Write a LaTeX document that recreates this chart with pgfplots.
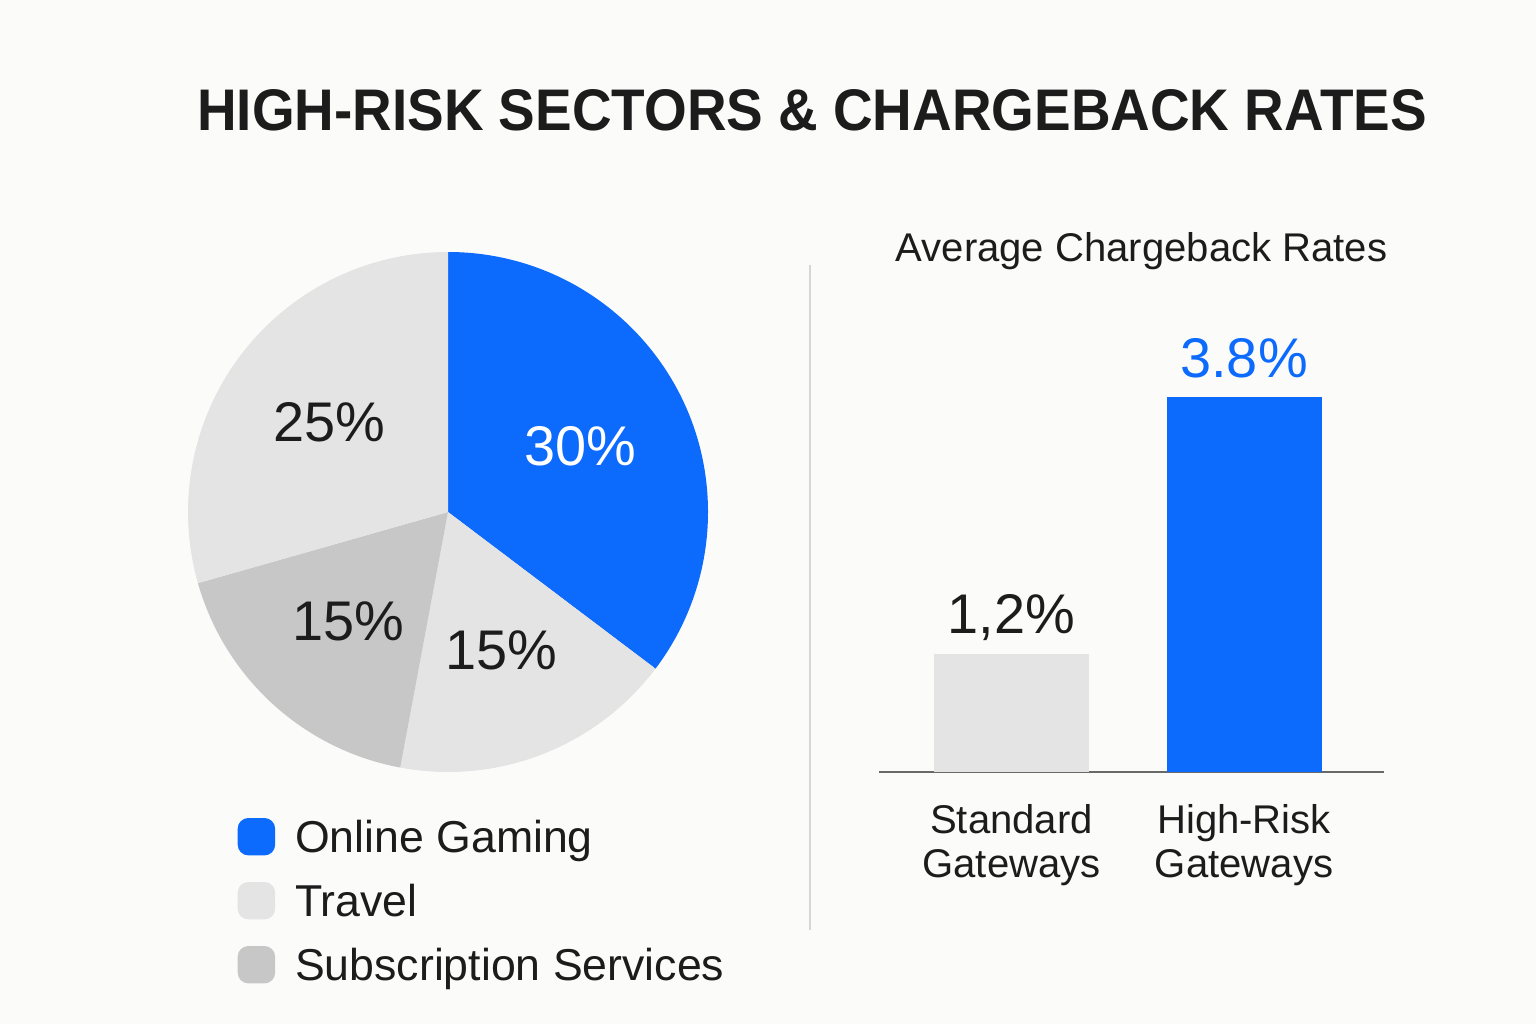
\documentclass[border=0pt]{standalone}
\usepackage{pgfplots}
\pgfplotsset{compat=1.18}
\usepackage{fontspec}
\setmainfont{Liberation Sans}
\usepackage{graphicx}

\definecolor{bg}{RGB}{251,251,250}
\definecolor{brandblue}{RGB}{12,106,253}
\definecolor{lightgrey}{RGB}{228,228,228}
\definecolor{midgrey}{RGB}{199,199,199}
\definecolor{ink}{RGB}{28,28,28}
\definecolor{rulegrey}{RGB}{214,214,214}
\definecolor{axisgrey}{RGB}{105,105,105}

% pie slices: share / fill colour / label colour (clockwise from the top)
\def\pieslices{30/brandblue/white, 15/lightgrey/ink, 15/midgrey/ink, 25/lightgrey/ink}
\def\pietotal{85}

\begin{document}
\begin{tikzpicture}[x=1cm,y=1cm]
\path[use as bounding box, fill=bg] (0,0) rectangle (15.36,10.24);

% heading
\node[anchor=base, text=ink, inner sep=0pt, font=\fontsize{16.7}{20}\selectfont\bfseries]
  at (8.12,8.93) {\scalebox{0.935}[1]{HIGH-RISK SECTORS \& CHARGEBACK RATES}};

% separator between the two panels
\draw[rulegrey, line width=0.02cm] (8.10,0.94) -- (8.10,7.59);

% ---------- sector shares ----------
\begin{axis}[
  at={(4.48cm,5.12cm)}, anchor=center,
  scale only axis, width=5.2cm, height=5.2cm,
  xmin=-1, xmax=1, ymin=-1, ymax=1,
  hide axis, clip=false,
  legend cell align=left,
  legend style={draw=none, fill=none, at={(rel axis cs:0,0)}, anchor=north west,
    xshift=0.49cm, yshift=-0.44cm, inner sep=0pt, row sep=0.14cm,
    font=\fontsize{12.7}{14}\selectfont, text=ink,
    /tikz/every odd column/.append style={column sep=0.15cm},
    nodes={inner sep=0.05cm, text height=0.31cm, text depth=0.09cm}},
]
\pgfplotsextra{
  \xdef\startangle{90}
  \foreach \v/\c/\t in \pieslices {
    \pgfmathsetmacro\endangle{\startangle-360*\v/\pietotal}
    \pgfmathsetmacro\midangle{(\startangle+\endangle)/2}
    \pgfmathsetmacro\sx{cos(\startangle)}
    \pgfmathsetmacro\sy{sin(\startangle)}
    \pgfmathsetmacro\lx{0.57*cos(\midangle)}
    \pgfmathsetmacro\ly{0.57*sin(\midangle)}
    \fill[\c] (axis cs:0,0) -- (axis cs:\sx,\sy)
      arc[start angle=\startangle, end angle=\endangle, radius=2.6cm] -- cycle;
    \node[text=\t, font=\fontsize{15.9}{18}\selectfont] at (axis cs:\lx,\ly) {\v\%};
    \xdef\startangle{\endangle}
  }
}
\addlegendimage{legend image code/.code={\fill[brandblue, rounded corners=0.1cm] (0cm,-0.13cm) rectangle (0.36cm,0.23cm);}}
\addlegendentry{Online Gaming}
\addlegendimage{legend image code/.code={\fill[lightgrey, rounded corners=0.1cm] (0cm,-0.13cm) rectangle (0.36cm,0.23cm);}}
\addlegendentry{Travel}
\addlegendimage{legend image code/.code={\fill[midgrey, rounded corners=0.1cm] (0cm,-0.13cm) rectangle (0.36cm,0.23cm);}}
\addlegendentry{Subscription Services}
\end{axis}

% ---------- chargeback rates ----------
\node[anchor=base, text=ink, inner sep=0pt, font=\fontsize{11.4}{13}\selectfont]
  at (11.415,7.62) {Average Chargeback Rates};

\begin{axis}[
  at={(8.79cm,2.52cm)}, anchor=south west,
  scale only axis, width=5.05cm, height=3.75cm,
  xmin=-0.57, xmax=1.602, ymin=0, ymax=3.8,
  ybar, bar width=1.55cm, bar shift=0pt,
  axis x line=bottom, axis y line=none,
  axis line style={-, draw=axisgrey, line width=0.02cm},
  xtick={0,1}, xticklabels={{Standard\\Gateways},{High-Risk\\Gateways}},
  xticklabel style={align=center, text=ink, yshift=-0.2cm, font=\fontsize{11.4}{12.5}\selectfont},
  major tick length=0pt, ytick=\empty,
  clip=false,
  nodes near coords, point meta=explicit symbolic,
  every node near coord/.append style={inner sep=0pt, text depth=0pt, yshift=0.19cm,
    font=\fontsize{15.9}{18}\selectfont},
]
\addplot[fill=lightgrey, draw=none, every node near coord/.append style={text=ink}]
  coordinates {(0,1.2) [{1,2\%}]};
\addplot[fill=brandblue, draw=none, every node near coord/.append style={text=brandblue}]
  coordinates {(1,3.8) [{3.8\%}]};
\end{axis}
\end{tikzpicture}
\end{document}
